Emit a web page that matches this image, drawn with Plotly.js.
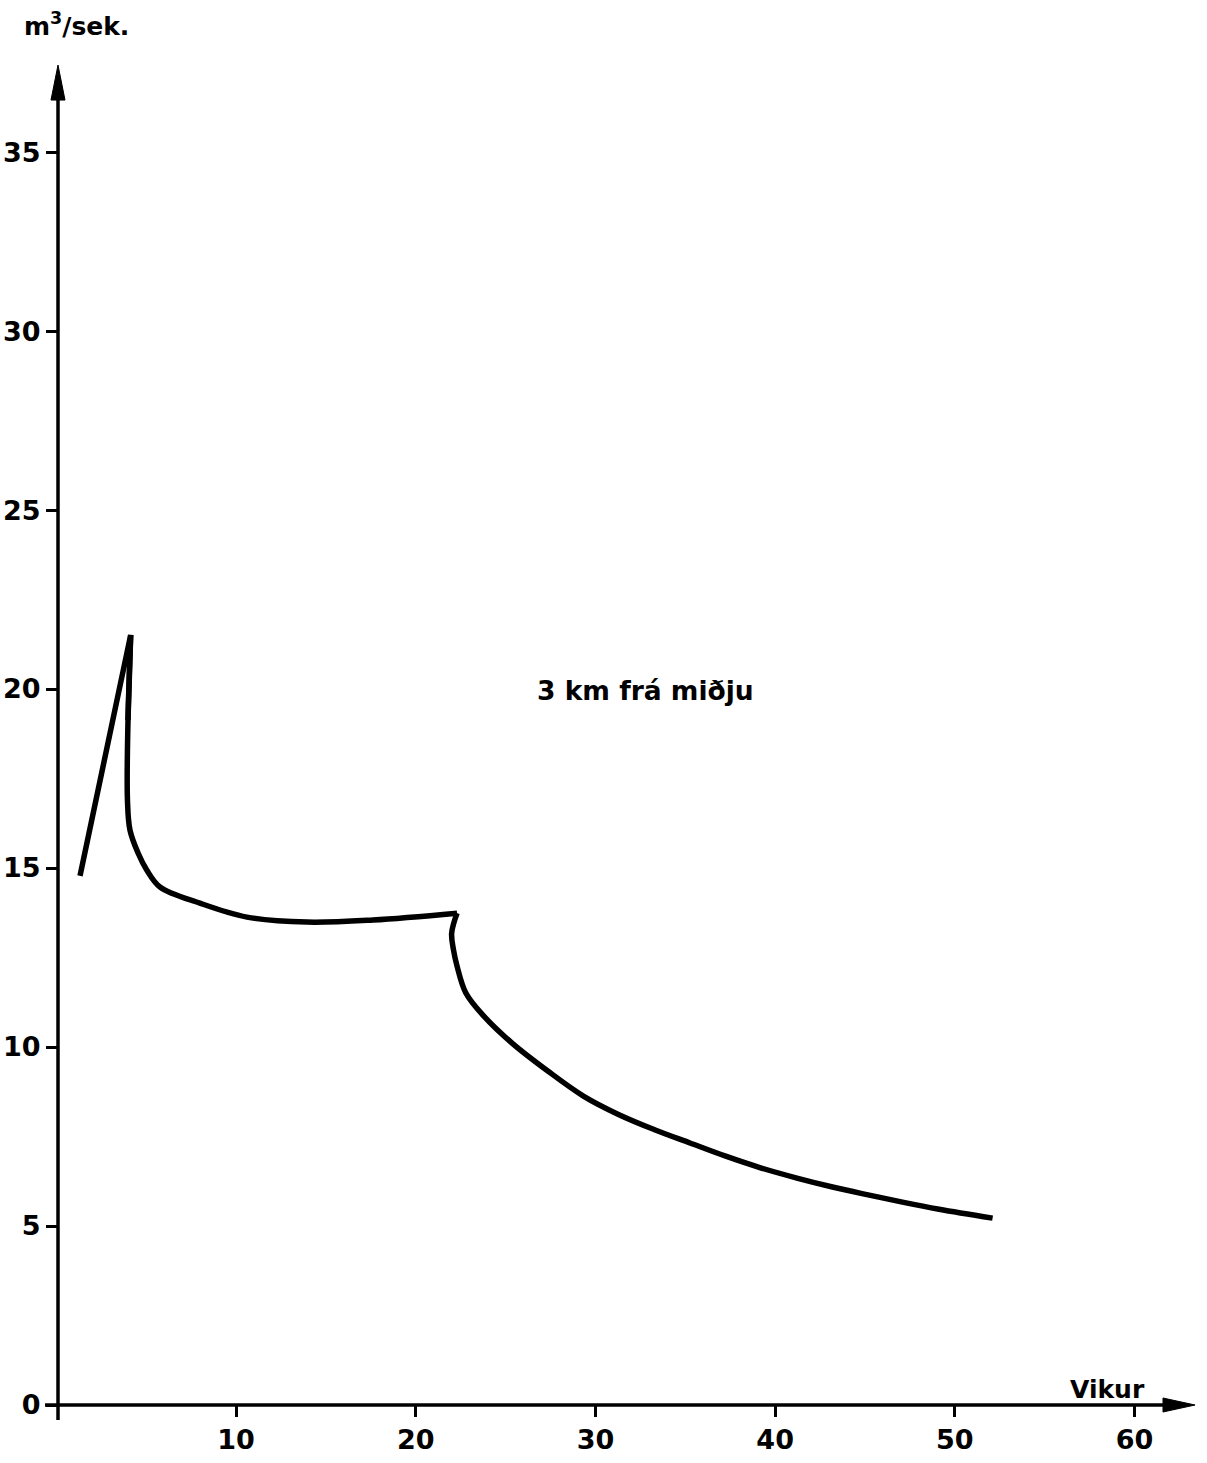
<!DOCTYPE html>
<html>
<head>
<meta charset="utf-8">
<script src="https://cdn.plot.ly/plotly-3.0.1.min.js"></script>
<style>html,body{margin:0;padding:0;background:#fff;}#chart{width:1207px;height:1463px;}</style>
</head>
<body>
<div id="chart"></div>
<script>
// Weeks (Vikur) and flow (m3/sek.), in three pieces
const riseWeeks = [1.32, 4.14, 3.99];
const riseFlow  = [14.78, 21.51, 19.13];
const plateauWeeks = [4.14, 3.99, 3.96, 4.10, 4.55, 5.04, 5.77, 7.99, 10.61, 13.95, 17.62, 22.30];
const plateauFlow  = [21.51, 19.13, 16.90, 16.06, 15.42, 14.94, 14.47, 14.02, 13.63, 13.49, 13.55, 13.74];
const declineWeeks = [22.30, 22.00, 22.10, 22.30, 22.79, 23.78, 25.36, 27.35, 29.33, 31.31, 33.29, 35.26, 37.25, 39.23, 41.21, 43.19, 45.17, 47.15, 49.12, 52.10];
const declineFlow  = [13.74, 13.18, 12.72, 12.26, 11.51, 10.87, 10.11, 9.33, 8.63, 8.11, 7.69, 7.32, 6.95, 6.62, 6.34, 6.09, 5.87, 5.66, 5.47, 5.22];
const xTicks = [10, 20, 30, 40, 50, 60];
const yTicks = [0, 5, 10, 15, 20, 25, 30, 35];
const yLabel = "m<sup>3</sup>/sek.";
const xLabel = "Vikur";
const curveLabel = "3 km frá miðju";

const FONT = "DejaVu Sans, Liberation Sans, sans-serif";

function piece(xs, ys, shape) {
  return {
    x: xs, y: ys, type: "scatter", mode: "lines",
    line: {color: "#000", width: 5.5, shape: shape, smoothing: 1},
    hoverinfo: "skip", showlegend: false
  };
}

const traces = [
  piece(riseWeeks, riseFlow, "linear"),
  piece(plateauWeeks, plateauFlow, "spline"),
  piece(declineWeeks, declineFlow, "spline")
];

const tickFont = {family: FONT, size: 27, color: "#000", weight: "bold"};

const layout = {
  width: 1207, height: 1463,
  margin: {l: 58, r: 0, t: 59, b: 58},
  paper_bgcolor: "#fff", plot_bgcolor: "#fff",
  font: {family: FONT, color: "#000", size: 27},
  xaxis: {
    range: [0.095, 64.03], tickvals: xTicks, ticktext: xTicks.map(String),
    ticks: "outside", ticklen: 11, tickwidth: 3, tickcolor: "#000",
    showgrid: false, zeroline: false, showline: false,
    tickfont: tickFont
  },
  yaxis: {
    range: [0, 37.6], tickvals: yTicks, ticktext: yTicks.map(String),
    ticks: "outside", ticklen: 11, tickwidth: 3, tickcolor: "#000",
    showgrid: false, zeroline: false, showline: false,
    tickfont: tickFont
  },
  shapes: [
    // y axis line
    {type: "line", xref: "paper", yref: "paper", x0: 0, x1: 0, y0: -0.0111, y1: 0.975, line: {color: "#000", width: 3.5}},
    // y arrow head
    {type: "path", xref: "paper", yref: "paper", path: "M -0.0061 0.9695 L 0 0.9955 L 0.0061 0.9695 Z", fillcolor: "#000", line: {color: "#000", width: 1}},
    // x axis line
    {type: "line", xref: "paper", yref: "paper", x0: -0.0113, x1: 0.97, y0: 0, y1: 0, line: {color: "#000", width: 3.5}},
    // x arrow head
    {type: "path", xref: "paper", yref: "paper", path: "M 0.9617 -0.0052 L 0.9896 0 L 0.9617 0.0052 Z", fillcolor: "#000", line: {color: "#000", width: 1}}
  ],
  annotations: [
    {text: yLabel, xref: "paper", yref: "paper", x: 0.0165, y: 1.026, xanchor: "center", yanchor: "middle", showarrow: false, font: {family: FONT, size: 25, color: "#000", weight: "bold"}},
    {text: xLabel, xref: "paper", yref: "paper", x: 0.913, y: 0.0115, xanchor: "center", yanchor: "middle", showarrow: false, font: {family: FONT, size: 25, color: "#000", weight: "bold"}},
    {text: curveLabel, xref: "x", yref: "y", x: 32.8, y: 19.97, xanchor: "center", yanchor: "middle", showarrow: false, font: {family: FONT, size: 26.5, color: "#000", weight: "bold"}}
  ]
};

Plotly.newPlot("chart", traces, layout, {staticPlot: true, displayModeBar: false});
</script>
</body>
</html>
